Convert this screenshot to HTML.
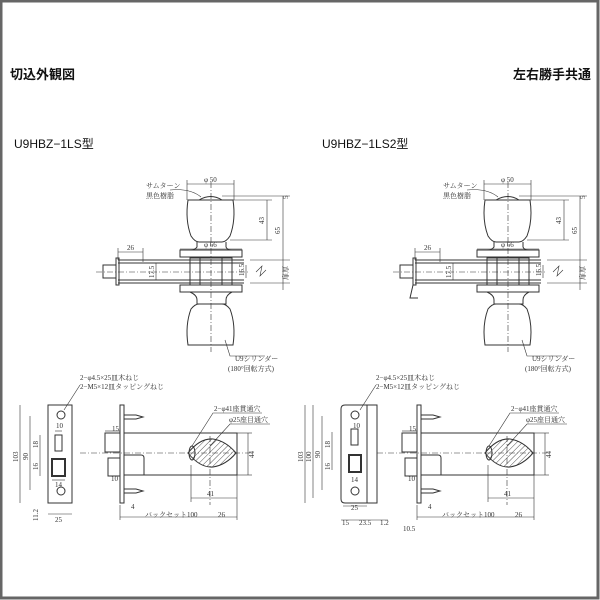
<!DOCTYPE html>
<html><head><meta charset="utf-8"><style>
html,body{margin:0;padding:0;background:#fff}
svg{display:block}
text{font-family:"Liberation Serif","Noto Serif CJK SC",serif;fill:#333}
.t{font-family:"Liberation Sans","Noto Sans CJK JP",sans-serif;fill:#111}
</style></head><body>
<svg width="600" height="600" viewBox="0 0 600 600" xmlns="http://www.w3.org/2000/svg">
<rect x="1" y="1" width="597" height="597" fill="#fff" stroke="#666" stroke-width="3"/>
<text class="t" x="10" y="79" font-size="13" font-weight="bold">切込外観図</text>
<text class="t" x="513" y="79" font-size="13" font-weight="bold">左右勝手共通</text>
<text class="t" x="14" y="148" font-size="12">U9HBZ−1LS型</text>
<text class="t" x="322" y="148" font-size="12">U9HBZ−1LS2型</text>

<defs>
<g id="knob" fill="none" stroke="#333" stroke-width="1">
 <path d="M199 200 Q211 193 222 200" fill="#fff"/>
 <path d="M188 200 H233 Q236 220 230 236 Q226 242 222 242 H199 Q195 242 191 236 Q185 220 188 200Z"/>
 <path d="M197 242 V247 Q195 250 190 250 H232 Q227 250 226 247 V242"/>
 <rect x="180" y="250" width="62" height="7"/>
 <rect x="180" y="285" width="62" height="7"/>
 <path d="M190 292 Q197 295 197 300 V304 H226 V300 Q226 295 232 292"/>
 <path d="M188 345 H233 Q236 325 230 309 Q226 304 222 304 H199 Q195 304 191 309 Q185 325 188 345Z"/>
 <line x1="118" y1="260" x2="244" y2="260"/>
 <line x1="118" y1="283" x2="244" y2="283"/>
 <line x1="118" y1="263" x2="244" y2="263"/>
 <line x1="118" y1="280" x2="244" y2="280"/>
 <rect x="190" y="258" width="42" height="27"/>
 <line x1="200" y1="258" x2="200" y2="285"/><line x1="222" y1="258" x2="222" y2="285"/>
 <line x1="211" y1="182" x2="211" y2="352" stroke-dasharray="6,2,1,2" stroke-width=".6"/>
 <line x1="96" y1="272" x2="250" y2="272" stroke-dasharray="6,2,1,2" stroke-width=".6"/>
 <g stroke-width=".6">
 <line x1="187" y1="184" x2="234" y2="184"/><line x1="187" y1="180" x2="187" y2="200"/><line x1="234" y1="180" x2="234" y2="200"/>
 <line x1="222" y1="196" x2="290" y2="196"/><line x1="230" y1="200" x2="272" y2="200"/><line x1="230" y1="240" x2="272" y2="240"/>
 <line x1="267" y1="200" x2="267" y2="240"/><line x1="283" y1="196" x2="283" y2="290"/>
 <line x1="250" y1="260" x2="290" y2="260"/><line x1="250" y1="283" x2="290" y2="283"/>
 <line x1="118" y1="252" x2="143" y2="252"/><line x1="118" y1="248" x2="118" y2="260"/><line x1="143" y1="248" x2="143" y2="262"/>
 <line x1="180" y1="249" x2="242" y2="249"/>
 <line x1="156" y1="263" x2="156" y2="280"/><line x1="246" y1="265" x2="246" y2="278"/>
 <path d="M256 272 L262 266 L260 276 L266 270"/>
 <path d="M170 190 Q190 188 201 197"/>
 <path d="M225 340 L230 356 H265"/>
 </g>
</g>
<g id="lock" fill="none" stroke="#333" stroke-width="1">
 <rect x="120" y="405" width="4" height="98"/>
 <rect x="124" y="433" width="113" height="42"/>
 <rect x="105" y="433" width="15" height="19"/>
 <rect x="108" y="458" width="12" height="18"/>
 <path d="M124 455 H141 Q144 455 144 458 V475"/>
 <path d="M124 415 H136 L143 417 L136 419 H124 M124 489 H136 L143 491 L136 493 H124"/>
 <path d="M188 453 Q200 438 213 439 Q226 441 236 453 Q226 465 213 467 Q200 468 188 453Z" fill="url(#h)"/>
 <ellipse cx="192" cy="453" rx="3" ry="7"/>
 <g stroke-width=".6">
 <line x1="80" y1="453" x2="250" y2="453" stroke-dasharray="6,2,1,2"/>
 <line x1="210" y1="436" x2="210" y2="505" stroke-dasharray="6,2,1,2"/>
 <line x1="237" y1="433" x2="252" y2="433"/><line x1="237" y1="475" x2="252" y2="475"/><line x1="248" y1="433" x2="248" y2="475"/>
 <line x1="191" y1="498" x2="237" y2="498"/><line x1="191" y1="465" x2="191" y2="502"/><line x1="237" y1="475" x2="237" y2="520"/>
 <line x1="120" y1="517" x2="237" y2="517"/><line x1="120" y1="505" x2="120" y2="520"/>
 <line x1="105" y1="431" x2="120" y2="431"/>
 <path d="M192 446 L213 413 H262 M210 446 L230 424 H270"/>
 </g>
</g>
<pattern id="h" width="4" height="4" patternUnits="userSpaceOnUse" patternTransform="rotate(45)"><line x1="0" y1="0" x2="0" y2="4" stroke="#555" stroke-width="1"/></pattern>
</defs>

<!-- left top -->
<use href="#knob"/>
<g fill="none" stroke="#333"><rect x="116" y="258" width="3" height="27"/><rect x="103" y="265" width="13" height="13"/></g>
<g font-size="7">
<text x="146" y="188">サムターン</text><text x="146" y="198">黒色樹脂</text>
<text x="204" y="182">φ 50</text><text x="204" y="247">φ 66</text><text x="127" y="250">26</text>
<text x="235" y="361">U9シリンダー</text><text x="228" y="371">(180°回転方式)</text>
<text transform="translate(264 224) rotate(-90)">43</text><text transform="translate(280 234) rotate(-90)">65</text>
<text transform="translate(288 199) rotate(-90)">5</text><text transform="translate(288 280) rotate(-90)">扉厚</text>
<text transform="translate(154 278) rotate(-90)">17.5</text><text transform="translate(244 276) rotate(-90)">16.5</text>
</g>
<!-- right top -->
<use href="#knob" transform="translate(297 0)"/>
<g fill="none" stroke="#333"><rect x="413" y="258" width="3" height="27"/><rect x="400" y="265" width="13" height="13"/><path d="M413 285 L410 298 H418"/></g>
<g font-size="7">
<text x="443" y="188">サムターン</text><text x="443" y="198">黒色樹脂</text>
<text x="501" y="182">φ 50</text><text x="501" y="247">φ 66</text><text x="424" y="250">26</text>
<text x="532" y="361">U9シリンダー</text><text x="525" y="371">(180°回転方式)</text>
<text transform="translate(561 224) rotate(-90)">43</text><text transform="translate(577 234) rotate(-90)">65</text>
<text transform="translate(585 199) rotate(-90)">5</text><text transform="translate(585 280) rotate(-90)">扉厚</text>
<text transform="translate(451 278) rotate(-90)">17.5</text><text transform="translate(541 276) rotate(-90)">16.5</text>
</g>

<!-- left bottom -->
<use href="#lock"/>
<g fill="none" stroke="#333" stroke-width="1">
<rect x="48" y="405" width="24" height="98"/>
<circle cx="61" cy="415" r="4"/><circle cx="61" cy="491" r="4"/>
<rect x="55" y="435" width="7" height="16"/><rect x="52" y="459" width="13" height="17" stroke-width="2"/>
<g stroke-width=".6"><line x1="20" y1="405" x2="20" y2="503"/><line x1="30" y1="416" x2="30" y2="490"/><line x1="40" y1="435" x2="40" y2="476"/>
<line x1="48" y1="514" x2="72" y2="514"/><line x1="52" y1="480" x2="65" y2="480"/><line x1="55" y1="431" x2="62" y2="431"/><path d="M64 410 L80 385"/></g>
</g>
<g font-size="7">
<text x="80" y="380">2−φ4.5×25皿木ねじ</text><text x="80" y="389">2−M5×12皿タッピングねじ</text>
<text x="56" y="428">10</text><text x="55" y="487">14</text><text x="55" y="522">25</text>
<text transform="translate(18 462) rotate(-90)">103</text><text transform="translate(28 460) rotate(-90)">90</text>
<text transform="translate(38 448) rotate(-90)">18</text><text transform="translate(38 470) rotate(-90)">16</text>
<text transform="translate(38 521) rotate(-90)">11.2</text>
<text x="112" y="431">15</text><text x="111" y="481">10</text><text x="131" y="509">4</text>
<text x="214" y="411">2−φ41座貫通穴</text><text x="229" y="422">φ25座目通穴</text>
<text transform="translate(254 458) rotate(-90)">44</text>
<text x="207" y="496">41</text><text x="145" y="517">バックセット100</text><text x="218" y="517">26</text>
</g>

<!-- right bottom -->
<use href="#lock" transform="translate(297 0)"/>
<g fill="none" stroke="#333" stroke-width="1">
<path d="M345 405 H377 V503 H345 Q341 503 341 499 V409 Q341 405 345 405Z"/><line x1="367" y1="405" x2="367" y2="503"/>
<circle cx="355" cy="415" r="4"/><circle cx="355" cy="491" r="4"/>
<rect x="351" y="429" width="7" height="16"/><rect x="349" y="455" width="12" height="17" stroke-width="2"/>
<g stroke-width=".6"><line x1="305" y1="405" x2="305" y2="503"/><line x1="313" y1="405" x2="313" y2="498"/><line x1="322" y1="416" x2="322" y2="490"/><line x1="332" y1="432" x2="332" y2="470"/>
<line x1="341" y1="520" x2="388" y2="520"/><line x1="343" y1="506" x2="367" y2="506"/><path d="M360 410 L376 385"/></g>
</g>
<g font-size="7">
<text x="376" y="380">2−φ4.5×25皿木ねじ</text><text x="376" y="389">2−M5×12皿タッピングねじ</text>
<text x="353" y="428">10</text><text x="351" y="482">14</text><text x="351" y="510">25</text>
<text x="342" y="525">15</text><text x="359" y="525">23.5</text><text x="380" y="525">1.2</text><text x="403" y="531">10.5</text>
<text transform="translate(303 462) rotate(-90)">103</text><text transform="translate(311 462) rotate(-90)">100</text><text transform="translate(320 458) rotate(-90)">90</text>
<text transform="translate(330 448) rotate(-90)">18</text><text transform="translate(330 470) rotate(-90)">16</text>
<text x="409" y="431">15</text><text x="408" y="481">10</text><text x="428" y="509">4</text>
<text x="511" y="411">2−φ41座貫通穴</text><text x="526" y="422">φ25座目通穴</text>
<text transform="translate(551 458) rotate(-90)">44</text>
<text x="504" y="496">41</text><text x="442" y="517">バックセット100</text><text x="515" y="517">26</text>
</g>
</svg>
</body></html>
